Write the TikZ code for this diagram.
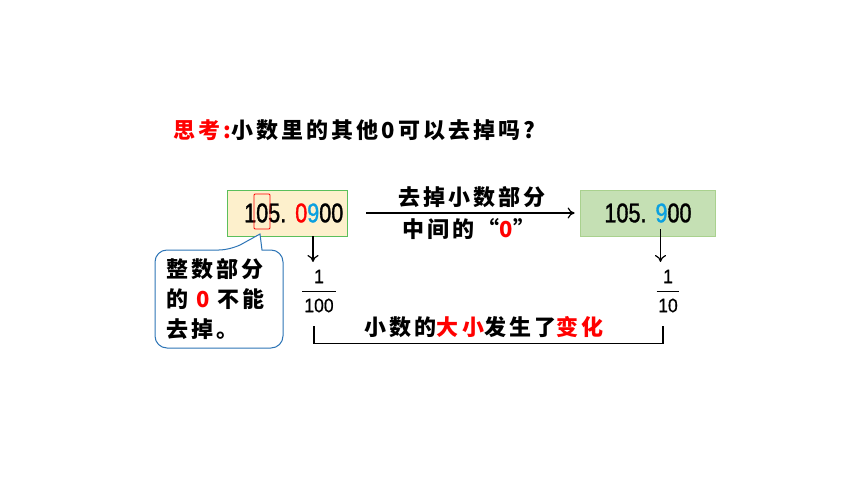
\documentclass[tikz,border=0pt]{standalone}
\usepackage{fontspec}
\usepackage{tikz}
\usetikzlibrary{arrows.meta}
\setmainfont{Liberation Sans}
\newfontfamily\cjk[LetterSpace=14]{Noto Sans CJK SC}
\newfontfamily\digits[FakeStretch=0.8,FakeBold=1.2]{Liberation Sans}
\newfontfamily\fracdigits[FakeStretch=0.9,FakeBold=0.6]{Liberation Sans}
\definecolor{boxyellow}{HTML}{FDF0CC}
\definecolor{boxgreen}{HTML}{C5E0B4}
\definecolor{edgegreen}{HTML}{5BBF5B}
\definecolor{edgelight}{HTML}{A9D18E}
\definecolor{nineblue}{HTML}{0AA0E0}
\definecolor{calloutblue}{HTML}{2E75B6}
\tikzset{
  font={\fontsize{22pt}{25}\selectfont}}

\begin{document}
\begin{tikzpicture}[x=1pt,y=-1pt]
\tikzstyle{every node}+=[inner sep=0pt]
\tikzstyle{arr}=[line width=1.2pt,-{To[length=7pt,width=11pt]}]
\tikzstyle{num}=[font={\digits\fontsize{27pt}{30}\selectfont},anchor=west]
\tikzstyle{frac}=[font={\fracdigits\fontsize{19.5pt}{22}\selectfont}]
\useasboundingbox (0,0) rectangle (860,484);
% title
\node [anchor=west] (title) at (173,130) {\cjk\bfseries\textcolor{red}{思考:}小数里的其他0可以去掉吗?};
% number boxes
\node [draw=edgegreen,line width=0.8pt,fill=boxyellow,minimum width=120,minimum height=46] (old) at (287,213) {};
\node [num] (oldnum) at (244,213) {105.\hspace{9pt}\textcolor{red}{0}\textcolor{nineblue}{9}00};
\node [draw=red,line width=0.8pt,rounded corners=1pt,minimum width=16,minimum height=35] (zero) at (262,211.5) {};
\node [draw=edgelight,line width=0.8pt,fill=boxgreen,minimum width=135,minimum height=46] (new) at (647.5,213) {};
\node [num,anchor=center] (newnum) at (648,213) {105.\hspace{9pt}\textcolor{nineblue}{9}00};
% middle arrow
\draw [arr] ([xshift=19pt]old.east) -- ([xshift=-5pt]new.west);
\node (up) at (472,197) {\cjk\bfseries 去掉小数部分};
\node (down) at (469,229) {\cjk\bfseries 中间的“\textcolor{red}{0}”};
% place values
\node [frac] (n1) at (319,276.5) {1};
\node [frac,inner xsep=2pt] (d1) at (319,305.5) {100};
\draw [line width=0.9pt] ([yshift=6.5pt]d1.north west) -- ([yshift=6.5pt]d1.north east);
\node [frac] (n2) at (668,276.5) {1};
\node [frac,inner xsep=1.5pt] (d2) at (668,305.5) {10};
\draw [line width=0.9pt] ([yshift=6.5pt]d2.north west) -- ([yshift=6.5pt]d2.north east);
\coordinate (a1) at (313,236);
\coordinate (b1) at (313,262);
\coordinate (a2) at (660.5,229);
\coordinate (b2) at (660.5,262);
\draw [arr] (a1) -- (b1);
\draw [arr] (a2) -- (b2);
% bracket
\coordinate (l1) at (314,326);
\coordinate (r1) at (663,326);
\draw [line width=1.3pt] (l1) -- (314,343.3) -- (663,343.3) -- (r1);
\node (change) at (484,327) {\cjk\bfseries 小数的\textcolor{red}{大小}发生了\textcolor{red}{变化}};
% callout
\draw [calloutblue,line width=1pt,fill=white,rounded corners=12pt] (283,300) -- (283,348) -- (155,348) -- (155,250)
  -- (231,250) [sharp corners] -- (260,234) -- (262,250) [rounded corners=12pt] -- (283,250) -- cycle;
\node [anchor=west,align=left] (note) at (166,299)
  {\cjk\bfseries 整数部分\\[5pt]\cjk\bfseries 的 \textcolor{red}{0} 不能\\[5pt]\cjk\bfseries 去掉。};
\end{tikzpicture}
\end{document}
